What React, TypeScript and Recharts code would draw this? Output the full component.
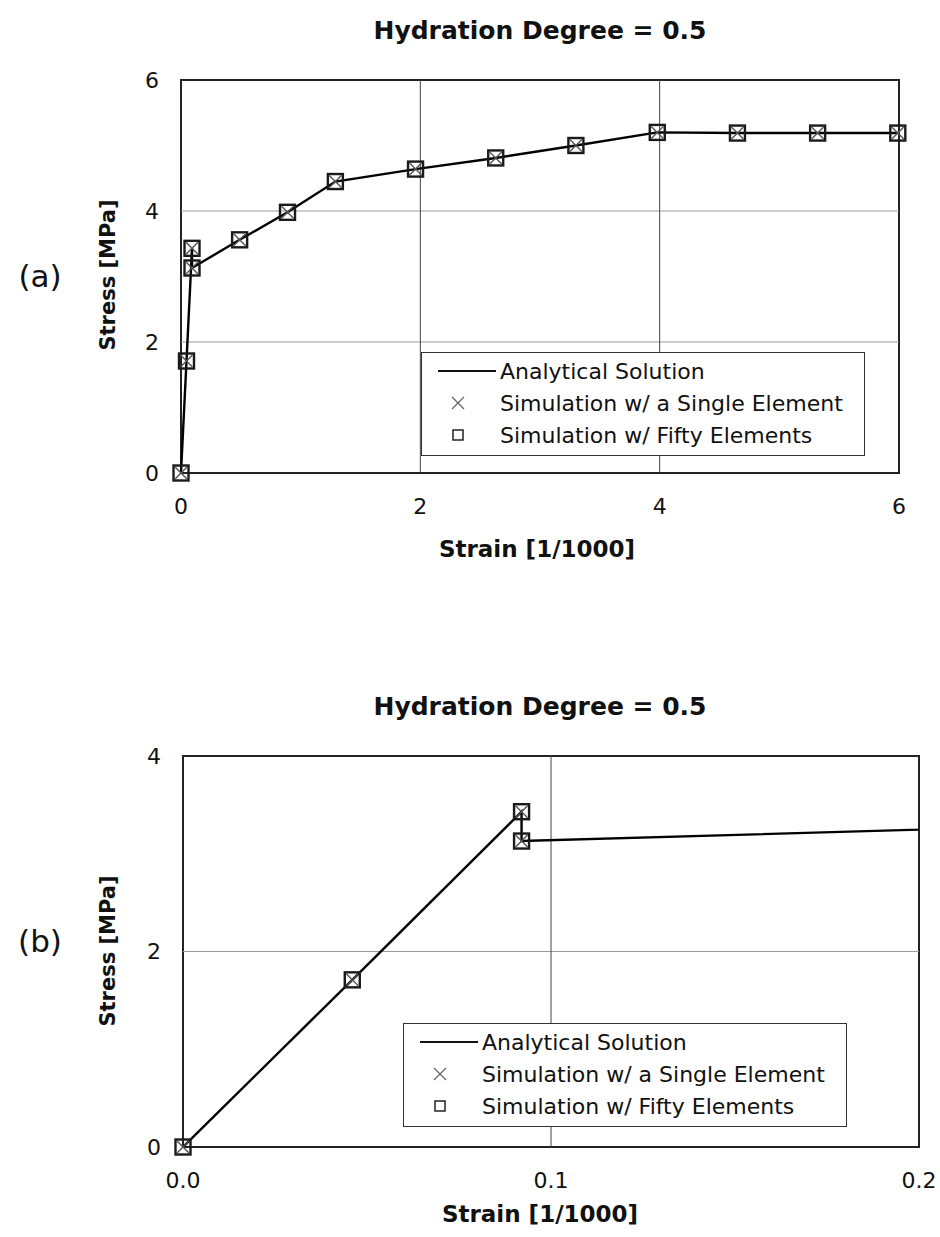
import React from 'react';
import { ComposedChart, Scatter, Line, XAxis, YAxis, ReferenceLine, ReferenceArea, Legend } from 'recharts';

const STRAIN = [0, 0.046, 0.092, 0.092, 0.49, 0.89, 1.29, 1.96, 2.63, 3.3, 3.98, 4.65, 5.32, 5.99];
const ANALYTICAL = [0, 1.71, 3.43, 3.13, 3.56, 3.98, 4.45, 4.64, 4.81, 5.0, 5.2, 5.19, 5.19, 5.19];
const SINGLE_ELEM = [0, 1.71, 3.43, 3.13, 3.56, 3.98, 4.45, 4.64, 4.81, 5.0, 5.2, 5.19, 5.19, 5.19];
const FIFTY_ELEM = [0, 1.71, 3.43, 3.13, 3.56, 3.98, 4.45, 4.64, 4.81, 5.0, 5.2, 5.19, 5.19, 5.19];

const TITLE = 'Hydration Degree = 0.5';
const SERIES_NAMES = ['Analytical Solution', 'Simulation w/ a Single Element', 'Simulation w/ Fifty Elements'];

const X_TICKS_A = [0, 2, 4, 6];
const Y_TICKS_A = [0, 2, 4, 6];
const X_TICKS_B = [0, 0.1, 0.2];
const Y_TICKS_B = [0, 2, 4];

const FONT = '"DejaVu Sans", Verdana, sans-serif';

const toPts = (ys: number[]) => STRAIN.map((x, i) => ({ x, y: ys[i] }));
const lineData = toPts(ANALYTICAL);
const singleData = toPts(SINGLE_ELEM);
const fiftyData = toPts(FIFTY_ELEM);

const Cross = (p: any) => {
  const { cx, cy } = p;
  if (cx == null || cy == null) return <g />;
  const r = 6;
  return (
    <g stroke="#555" strokeWidth={1.4}>
      <line x1={cx - r} y1={cy - r} x2={cx + r} y2={cy + r} />
      <line x1={cx - r} y1={cy + r} x2={cx + r} y2={cy - r} />
    </g>
  );
};

const Box = (p: any) => {
  const { cx, cy } = p;
  if (cx == null || cy == null) return <g />;
  return <rect x={cx - 7.5} y={cy - 7.5} width={15} height={15} fill="none" stroke="#1a1a1a" strokeWidth={2.4} />;
};

function LegendBox() {
  const row: React.CSSProperties = { display: 'flex', alignItems: 'center', height: 32 };
  const sym: React.CSSProperties = { width: 40, display: 'flex', justifyContent: 'center', marginRight: 22 };
  return (
    <div
      style={{
        border: '1px solid #333',
        background: '#fff',
        padding: '2px 0 4px 16px',
        fontFamily: FONT,
        fontSize: 22,
        color: '#111',
        width: 444,
        boxSizing: 'border-box',
      }}
    >
      <div style={row}>
        <div style={{ width: 58, height: 0, borderTop: '2px solid #111', marginRight: 4 }} />
        <span>{SERIES_NAMES[0]}</span>
      </div>
      <div style={row}>
        <div style={sym}>
          <svg width={14} height={14}>
            <line x1={1} y1={1} x2={13} y2={13} stroke="#666" strokeWidth={1.3} />
            <line x1={1} y1={13} x2={13} y2={1} stroke="#666" strokeWidth={1.3} />
          </svg>
        </div>
        <span>{SERIES_NAMES[1]}</span>
      </div>
      <div style={row}>
        <div style={sym}>
          <svg width={12} height={12}>
            <rect x={1} y={1} width={10} height={10} fill="none" stroke="#222" strokeWidth={1.5} />
          </svg>
        </div>
        <span>{SERIES_NAMES[2]}</span>
      </div>
    </div>
  );
}

const tickStyle = { fontSize: 22, fill: '#111', fontFamily: FONT };

interface PanelProps {
  top: number;
  height: number;
  margin: { top: number; right: number; bottom: number; left: number };
  xDomain: [number, number];
  yDomain: [number, number];
  xTicks: number[];
  yTicks: number[];
  xFmt: (v: number) => string;
  legendPos: { left: number; top: number };
  overflow: boolean;
}

function Panel({ top, height, margin, xDomain, yDomain, xTicks, yTicks, xFmt, legendPos, overflow }: PanelProps) {
  const innerX = xTicks.slice(1, -1);
  const innerY = yTicks.slice(1, -1);
  // markers sit on hidden twin axes so they are not clipped at the frame
  const inRange = (d: { x: number; y: number }) =>
    d.x >= xDomain[0] && d.x <= xDomain[1] && d.y >= yDomain[0] && d.y <= yDomain[1];
  return (
    <div style={{ position: 'absolute', left: 0, top }}>
      <ComposedChart width={940} height={height} margin={margin}>
        <XAxis
          type="number"
          dataKey="x"
          domain={xDomain}
          ticks={xTicks}
          tickFormatter={xFmt}
          allowDataOverflow={overflow}
          axisLine={false}
          tickLine={false}
          tickSize={0}
          tickMargin={25}
          tick={tickStyle}
          height={40}
        />
        <XAxis xAxisId="pts" type="number" dataKey="x" domain={xDomain} hide />
        <YAxis
          type="number"
          dataKey="y"
          domain={yDomain}
          ticks={yTicks}
          allowDataOverflow={overflow}
          axisLine={false}
          tickLine={false}
          tickSize={0}
          tickMargin={22}
          tick={tickStyle}
          width={60}
        />
        <YAxis yAxisId="pts" type="number" dataKey="y" domain={yDomain} hide />
        {innerY.map((v) => (
          <ReferenceLine key={'h' + v} y={v} stroke="#9a9a9a" strokeWidth={1} />
        ))}
        {innerX.map((v) => (
          <ReferenceLine key={'v' + v} x={v} stroke="#444" strokeWidth={1} />
        ))}
        <ReferenceArea x1={xDomain[0]} x2={xDomain[1]} y1={yDomain[0]} y2={yDomain[1]} fill="none" stroke="#222" strokeWidth={2} />
        <Line
          name={SERIES_NAMES[0]}
          data={lineData}
          dataKey="y"
          type="linear"
          stroke="#000"
          strokeWidth={2.4}
          dot={false}
          activeDot={false}
          isAnimationActive={false}
        />
        <Scatter xAxisId="pts" yAxisId="pts" name={SERIES_NAMES[2]} data={fiftyData.filter(inRange)} dataKey="y" shape={Box} isAnimationActive={false} />
        <Scatter xAxisId="pts" yAxisId="pts" name={SERIES_NAMES[1]} data={singleData.filter(inRange)} dataKey="y" shape={Cross} isAnimationActive={false} />
        <Legend
          layout="horizontal"
          verticalAlign="middle"
          align="center"
          content={() => <LegendBox />}
          wrapperStyle={{ position: 'absolute', left: legendPos.left, top: legendPos.top, width: 'auto', height: 'auto' }}
        />
      </ComposedChart>
    </div>
  );
}

const textAbs = (x: number, y: number, size: number, bold: boolean, rotate = 0): React.CSSProperties => ({
  position: 'absolute',
  left: x,
  top: y,
  transform: `translate(-50%, -50%) rotate(${rotate}deg)`,
  fontFamily: FONT,
  fontSize: size,
  fontWeight: bold ? 'bold' : 'normal',
  color: '#111',
  whiteSpace: 'nowrap',
});

export default function App() {
  return (
    <div style={{ position: 'absolute', left: 0, top: 0, width: 940, height: 1237, background: '#fff', overflow: 'hidden' }}>
      <Panel
        top={0}
        height={600}
        margin={{ top: 80, right: 41, bottom: 87, left: 121 }}
        xDomain={[0, 6]}
        yDomain={[0, 6]}
        xTicks={X_TICKS_A}
        yTicks={Y_TICKS_A}
        xFmt={(v) => String(v)}
        legendPos={{ left: 421, top: 352 }}
        overflow={false}
      />
      <Panel
        top={620}
        height={617}
        margin={{ top: 136, right: 21, bottom: 50, left: 123 }}
        xDomain={[0, 0.2]}
        yDomain={[0, 4]}
        xTicks={X_TICKS_B}
        yTicks={Y_TICKS_B}
        xFmt={(v) => v.toFixed(1)}
        legendPos={{ left: 403, top: 1023 - 620 }}
        overflow={true}
      />
      <div style={textAbs(540, 30, 25, true)}>{TITLE}</div>
      <div style={textAbs(540, 706, 25, true)}>{TITLE}</div>
      <div style={textAbs(537, 549, 23, true)}>Strain [1/1000]</div>
      <div style={textAbs(540, 1214, 23, true)}>Strain [1/1000]</div>
      <div style={textAbs(108, 275, 21, true, -90)}>Stress [MPa]</div>
      <div style={textAbs(108, 951, 21, true, -90)}>Stress [MPa]</div>
      <div style={textAbs(40, 276, 31, false)}>(a)</div>
      <div style={textAbs(40, 941, 31, false)}>(b)</div>
    </div>
  );
}
